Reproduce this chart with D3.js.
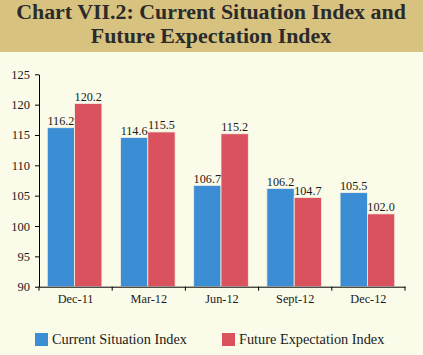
<!DOCTYPE html>
<html><head><meta charset="utf-8">
<script src="https://cdn.jsdelivr.net/npm/d3@7"></script>
<style>
html,body{margin:0;padding:0;background:#fbfbe9;}
svg{display:block;}
</style></head>
<body>
<script>
const categories = ["Dec-11","Mar-12","Jun-12","Sept-12","Dec-12"];
const seriesNames = ["Current Situation Index","Future Expectation Index"];
const currentSituation = [116.2,114.6,106.7,106.2,105.5];
const futureExpectation = [120.2,115.5,115.2,104.7,102.0];
const yTicks = [90,95,100,105,110,115,120,125];
const colors = ["#3b8dd4","#da525d"];
const titleLines = ["Chart VII.2: Current Situation Index and","Future Expectation Index"];

(function(){
const W=423,H=355;
const svg=d3.select("body").append("svg").attr("width",W).attr("height",H);
svg.append("rect").attr("width",W).attr("height",H).attr("fill","#fbfbe9");
svg.append("rect").attr("width",W).attr("height",52).attr("fill","#d8c27f");
svg.selectAll("text.title").data(titleLines).enter().append("text")
  .attr("x",211).attr("y",(d,i)=>18.5+i*24.5).attr("text-anchor","middle")
  .attr("font-family","Liberation Serif").attr("font-weight","bold").attr("font-size",21.9)
  .attr("fill","#2b2b2b").text(d=>d);

const pLeft=39,pRight=405,pTop=74.3,pBottom=286.7;
const x0=d3.scaleBand().domain(categories).range([pLeft,pRight]).padding(0);
const x1=d3.scaleBand().domain([0,1]).range([0,x0.bandwidth()]).paddingInner(0).paddingOuter(0.34);
const y=d3.scaleLinear().domain([90,125]).range([pBottom,pTop]);

const data=categories.map((c,i)=>({cat:c,vals:[currentSituation[i],futureExpectation[i]]}));
const g=svg.append("g");
const groups=g.selectAll("g.grp").data(data).enter().append("g")
  .attr("transform",d=>`translate(${x0(d.cat)-1},0)`);
groups.selectAll("rect").data(d=>d.vals.map((v,j)=>({v,j}))).enter().append("rect")
  .attr("x",d=>x1(d.j)).attr("width",x1.bandwidth())
  .attr("y",d=>y(d.v)).attr("height",d=>pBottom-y(d.v))
  .attr("fill",d=>colors[d.j]).attr("stroke","#f4f0e6").attr("stroke-width",0.8);
groups.selectAll("text").data(d=>d.vals.map((v,j)=>({v,j}))).enter().append("text")
  .attr("x",d=>x1(d.j)+x1.bandwidth()/2).attr("y",d=>y(d.v)-2.5)
  .attr("text-anchor","middle").attr("font-family","Liberation Serif").attr("font-size",12.2)
  .attr("fill","#1a1a1a").text(d=>d.v.toFixed(1));

const yAxis=svg.append("g").attr("transform",`translate(${pLeft},0)`)
  .call(d3.axisLeft(y).tickValues(yTicks).tickSize(4).tickSizeOuter(0).tickFormat(d3.format("d")));
yAxis.selectAll("text").attr("font-family","Liberation Serif").attr("font-size",12.5).attr("fill","#1a1a1a").attr("dx","-2");
yAxis.selectAll("line,path").attr("stroke","#000");

const xAxis=svg.append("g").attr("transform",`translate(0,${pBottom})`)
  .call(d3.axisBottom(x0).tickSize(0).tickSizeOuter(0));
xAxis.selectAll("text").attr("font-family","Liberation Serif").attr("font-size",12.3).attr("fill","#1a1a1a").attr("dy","1.1em");
xAxis.selectAll("path").attr("stroke","#000");
const sep=categories.map(c=>x0(c)).concat([pRight]);
svg.append("g").selectAll("line").data(sep).enter().append("line")
  .attr("x1",d=>d).attr("x2",d=>d).attr("y1",pBottom).attr("y2",pBottom+4).attr("stroke","#000");

const legend=svg.append("g");
const lx=[35,222];
seriesNames.forEach((n,i)=>{
  legend.append("rect").attr("x",lx[i]).attr("y",333).attr("width",13).attr("height",13).attr("fill",colors[i]);
  legend.append("text").attr("x",lx[i]+17).attr("y",344).attr("font-family","Liberation Serif").attr("font-size",14.3)
    .attr("fill","#1a1a1a").text(n);
});
})();
</script>
</body></html>
